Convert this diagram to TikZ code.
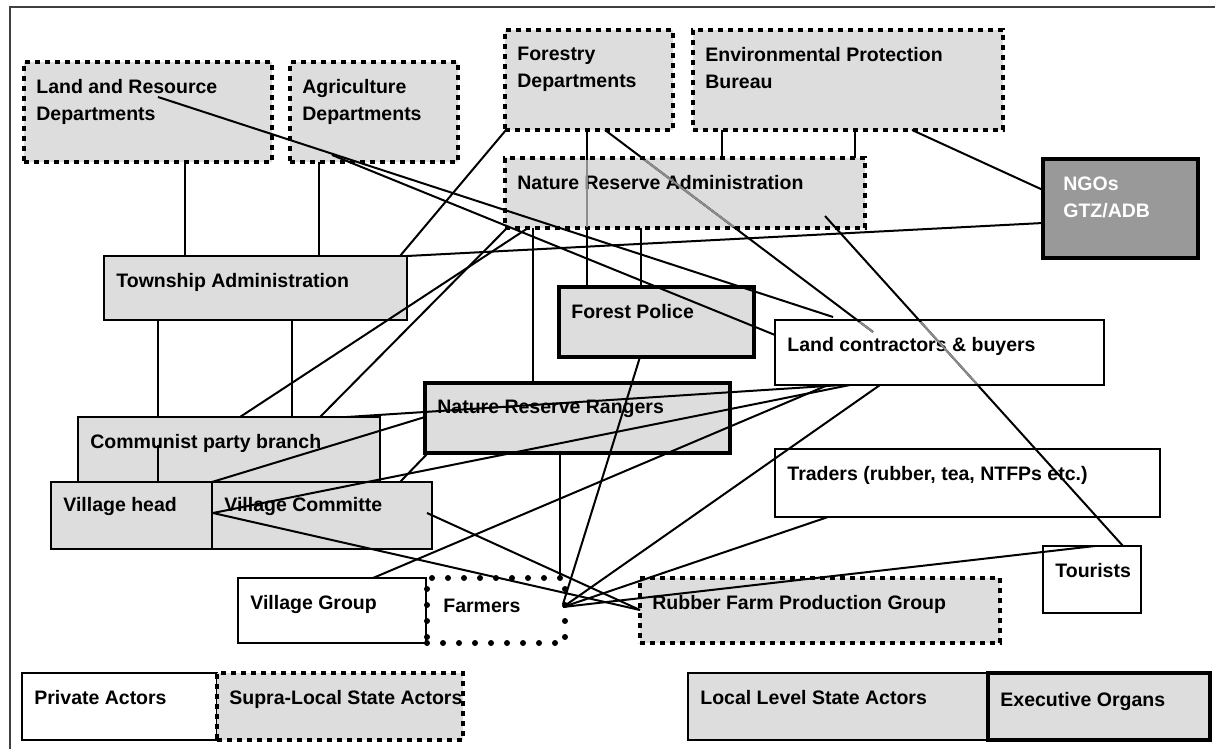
\documentclass[tikz,border=0pt]{standalone}
\usepackage{fontspec}
\setmainfont{Liberation Sans}
\definecolor{boxgray}{HTML}{DDDDDD}
\definecolor{ngogray}{HTML}{999999}
\tikzset{
  actor/.style={draw, rectangle, anchor=north west, outer sep=0pt, inner sep=0pt},
  caption/.style={anchor=north west, inner sep=0pt, align=left, xshift=6pt, yshift=-8.5pt,
    font=\fontsize{9.75pt}{13.5pt}\selectfont\bfseries}
}

\begin{document}
\begin{tikzpicture}[x=0.5pt, y=-0.5pt]
        \tikzstyle{supra}=[actor,fill=boxgray,line width=2pt,dash pattern=on 2.5pt off 2.5pt]
        \tikzstyle{local}=[actor,fill=boxgray,line width=1.2pt]
        \tikzstyle{organ}=[actor,fill=boxgray,line width=2.4pt]
        \tikzstyle{private}=[actor,fill=white,line width=1pt]
        \tikzstyle{ngo}=[actor,fill=ngogray,line width=1.6pt]
        \tikzstyle{farmer}=[actor,line width=3pt,dash pattern=on 0pt off 8pt,line cap=round]
        \tikzstyle{link}=[line width=1pt]
        \tikzstyle{faint}=[line width=1pt,draw=black!45]
        \tikzstyle{frame}=[draw=black!75,line width=0.8pt]

        \useasboundingbox (0,0) rectangle (1215,749);
        \draw[frame] (10,749) -- (10,7) -- (1215,7);

        % supra-local level
        \node[supra, minimum width=124pt, minimum height=50pt, label={[caption]north west:{Land and Resource\\Departments}}] (LR) at (24,62) {};
        \node[supra, minimum width=84pt, minimum height=50pt, label={[caption]north west:{Agriculture\\Departments}}] (AG) at (290,62) {};
        \node[supra, minimum width=84pt, minimum height=50pt, label={[caption]north west:{Forestry\\Departments}}] (FD) at (505,30) {};
        \node[supra, minimum width=155pt, minimum height=50pt, label={[caption]north west:{Environmental Protection\\Bureau}}] (EP) at (693,30) {};
        \node[supra, minimum width=180pt, minimum height=35pt, label={[caption]north west:{Nature Reserve Administration}}] (NRA) at (505,158) {};
        \node[ngo, minimum width=77.5pt, minimum height=49.5pt, label={[caption,text=white,xshift=4pt]north west:{NGOs\\GTZ/ADB}}] (NGO) at (1043,159) {};

        % local level
        \node[local, minimum width=151.5pt, minimum height=32pt, label={[caption]north west:{Township Administration}}] (TA) at (104,256) {};
        \node[organ, minimum width=97.5pt, minimum height=35pt, label={[caption]north west:{Forest Police}}] (FP) at (559,287) {};
        \node[private, minimum width=164.5pt, minimum height=32.5pt, label={[caption]north west:{Land contractors \& buyers}}] (LC) at (775,320) {};
        \node[organ, minimum width=152.5pt, minimum height=35pt, label={[caption]north west:{Nature Reserve Rangers}}] (NRR) at (425,383) {};
        \node[local, minimum width=151pt, minimum height=33pt, label={[caption]north west:{Communist party branch}}] (CP) at (78,417) {};
        \node[local, minimum width=80.5pt, minimum height=33.5pt, label={[caption,yshift=1pt]north west:{Village head}}] (VH) at (51,482) {};
        \node[local, minimum width=110pt, minimum height=33.5pt, label={[caption,yshift=1pt]north west:{Village Committe}}] (VC) at (212,482) {};
        \node[private, minimum width=192.5pt, minimum height=34pt, label={[caption]north west:{Traders (rubber, tea, NTFPs etc.)}}] (TR) at (775,449) {};
        \node[private, minimum width=49pt, minimum height=33.5pt, label={[caption]north west:{Tourists}}] (TO) at (1043,546) {};
        \node[private, minimum width=94pt, minimum height=32.5pt, label={[caption]north west:{Village Group}}] (VG) at (238,578) {};
        \node[farmer, minimum width=69pt, minimum height=32.5pt, label={[caption,xshift=2pt,yshift=-2pt]north west:{Farmers}}] (FA) at (427,578) {};
        \node[supra, minimum width=180pt, minimum height=32.5pt, label={[caption]north west:{Rubber Farm Production Group}}] (RF) at (640,578) {};

        % key
        \node[private, minimum width=97.5pt, minimum height=33.5pt, label={[caption]north west:{Private Actors}}] (PA) at (22,673) {};
        \node[supra, minimum width=123pt, minimum height=33.5pt, label={[caption]north west:{Supra-Local State Actors}}] (SL) at (217,673) {};
        \node[local, minimum width=150pt, minimum height=33.5pt, label={[caption]north west:{Local Level State Actors}}] (LL) at (688,673) {};
        \node[organ, minimum width=111pt, minimum height=33.5pt, label={[caption,yshift=-1pt]north west:{Executive Organs}}] (EO) at (988,673) {};

        % hierarchy
        \draw[link] ([shift={(161,100)}]LR.north west) -- ([shift={(81,0)}]TA.north west);
        \draw[link] ([shift={(29,100)}]AG.north west) -- ([shift={(215,0)}]TA.north west);
        \draw[link] ([shift={(82,100)}]FD.north west) -- ([shift={(28,0)}]FP.north west);
        \draw[link] ([shift={(136,70)}]NRA.north west) -- ([shift={(82,0)}]FP.north west);
        \draw[link] ([shift={(29,100)}]EP.north west) -- ([shift={(217,0)}]NRA.north west);
        \draw[link] ([shift={(162,100)}]EP.north west) -- ([shift={(350,0)}]NRA.north west);
        \draw[link] ([shift={(28,70)}]NRA.north west) -- ([shift={(108,0)}]NRR.north west);
        \draw[link] ([shift={(54,64)}]TA.north west) -- ([shift={(80,0)}]CP.north west);
        \draw[link] ([shift={(188,64)}]TA.north west) -- ([shift={(214,0)}]CP.north west);
        \draw[link] ([shift={(80,28)}]CP.north west) -- ([shift={(107,0)}]VH.north west);
        \draw[link] ([shift={(135,70)}]NRR.north west) -- ([shift={(133,0)}]FA.north west);

        % cross links
        \draw[link] ([shift={(296,0)}]TA.north west) -- ([shift={(1,100)}]FD.north west);
        \draw[link] (TA.north east) -- ([shift={(0,64)}]NGO.north west);
        \draw[link] ([shift={(219,100)}]EP.north west) -- ([shift={(0,31)}]NGO.north west);
        \draw[link] ([shift={(134,35)}]LR.north west) -- ([shift={(58,-3)}]LC.north west);
        \draw[link] ([shift={(42,93)}]AG.north west) -- ([shift={(0,15)}]LC.north west);
        \draw[link] ([shift={(100,100)}]FD.north west) -- ([shift={(98,12)}]LC.north west);
        \draw[link] ([shift={(320,58)}]NRA.north west) -- ([shift={(80,0)}]TO.north west);
        \draw[link] ([shift={(162,0)}]CP.north west) -- ([shift={(23,70)}]NRA.north west);
        \draw[link] ([shift={(242,0)}]CP.north west) -- ([shift={(2,70)}]NRA.north west);
        \draw[link] ([shift={(269,0)}]CP.north west) -- ([shift={(67,65)}]LC.north west);
        \draw[link] (VH.north east) -- ([shift={(0,34)}]NRR.north west);
        \draw[link] ([shift={(188,0)}]VC.north west) -- ([shift={(3,70)}]NRR.north west);
        \draw[link] ([shift={(162,31)}]VH.north west) -- ([shift={(75,65)}]LC.north west);
        \draw[link] ([shift={(162,31)}]VH.north west) -- ([shift={(0,32)}]RF.north west);
        \draw[link] ([shift={(215,31)}]VC.north west) -- ([shift={(0,32)}]RF.north west);
        \draw[link] ([shift={(135,0)}]VG.north west) -- ([shift={(53,65)}]LC.north west);
        \draw[link] ([shift={(136,29)}]FA.north west) -- ([shift={(105,65)}]LC.north west);
        \draw[link] ([shift={(136,29)}]FA.north west) -- ([shift={(53,68)}]TR.north west);
        \draw[link] ([shift={(136,29)}]FA.north west) -- ([shift={(52,0)}]TO.north west);
        \draw[link] ([shift={(81,70)}]FP.north west) -- ([shift={(136,26)}]FA.north west);

        % links seen faintly through boxes
        \begin{scope}
          \clip ([shift={(2,2)}]NRA.north west) rectangle ([shift={(-2,-2)}]NRA.south east);
          \draw[faint] ([shift={(82,100)}]FD.north west) -- ([shift={(28,0)}]FP.north west);
          \draw[faint] ([shift={(100,100)}]FD.north west) -- ([shift={(98,12)}]LC.north west);
        \end{scope}
        \begin{scope}
          \clip ([shift={(2,2)}]LC.north west) rectangle ([shift={(-2,-2)}]LC.south east);
          \draw[faint] ([shift={(100,100)}]FD.north west) -- ([shift={(98,12)}]LC.north west);
          \draw[faint] ([shift={(320,58)}]NRA.north west) -- ([shift={(80,0)}]TO.north west);
        \end{scope}
\end{tikzpicture}
\end{document}
